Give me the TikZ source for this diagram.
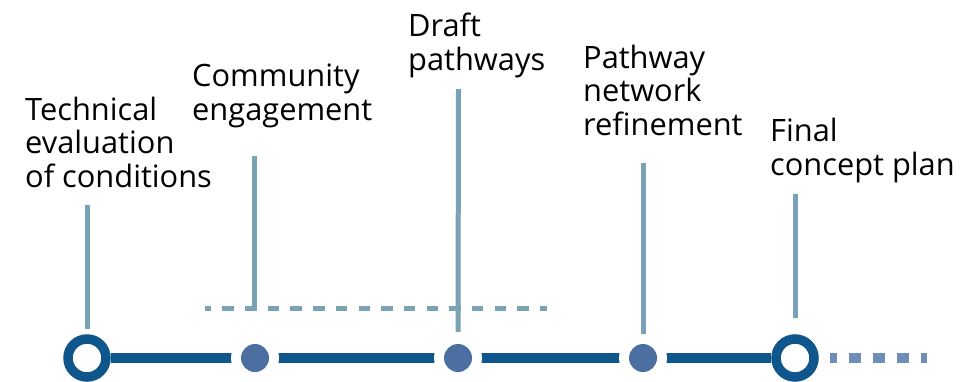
\documentclass[tikz,border=0pt]{standalone}
\usepackage{fontspec}
\setmainfont{Open Sans}
\definecolor{mainblue}{HTML}{0E568C}
\definecolor{dotblue}{HTML}{4A6FA0}
\definecolor{vcol}{HTML}{7AA2B5}
\definecolor{tailblue}{HTML}{6F8DB8}
\begin{document}
\begin{tikzpicture}[x=1pt,y=-1pt,
  lbl/.style={anchor=base west, inner sep=0pt, align=left, font=\fontsize{30.8}{33.5}\selectfont},
  vline/.style={draw=vcol, line width=5pt},
  mainline/.style={draw=mainblue, line width=10.5pt},
  ring/.style={circle, draw=mainblue, line width=9.5pt, fill=white, minimum size=38pt, inner sep=0pt},
  dot/.style={circle, fill=dotblue, minimum size=28pt, inner sep=0pt},
  gapc/.style={circle, fill=white, minimum size=48pt, inner sep=0pt},
  dline/.style={draw=vcol, line width=5pt, dash pattern=on 11.35pt off 11.35pt, dash phase=5.35pt},
  tailline/.style={draw=tailblue, line width=10pt, dash pattern=on 11.7pt off 12.2pt, dash phase=4.7pt},
]
\useasboundingbox (0,0) rectangle (979,381);

% milestones on the timeline
\node[ring] (m1) at (87,358) {};
\node[ring] (m5) at (795,358) {};
\draw[mainline] (m1) -- (m5);
\node[gapc] (g2) at (255,358) {};
\node[gapc] (g3) at (458,358) {};
\node[gapc] (g4) at (643,358) {};
\node[dot] (m2) at (255,358) {};
\node[dot] (m3) at (458,358) {};
\node[dot] (m4) at (643,358) {};

% dotted continuation
\coordinate (tailend) at (927,358);
\draw[tailline] ([xshift=11.25pt]m5.east) -- (tailend);

% dashed bracket line
\coordinate (dl) at (205,308.5);
\coordinate (dr) at (547,308.5);
\draw[dline] (dl) -- (dr);

% labels (anchored at the baseline of their last line)
\node[lbl] (l1) at (25,187) {Technical\\evaluation\\of conditions};
\node[lbl] (l2) at (192,120) {Community\\engagement};
\node[lbl] (l3) at (408,70) {Draft\\pathways};
\node[lbl] (l4) at (583,135) {Pathway\\network\\refinement};
\node[lbl] (l5) at (770,175) {Final\\concept plan};

% vertical connectors
\coordinate (v1) at (87,205);
\coordinate (v2) at (254.5,156);
\coordinate (v2b) at (254.5,311);
\coordinate (v3) at (458.5,89);
\coordinate (v4) at (643,163);
\coordinate (v5) at (795,194);
\draw[vline] (v1) -- ([yshift=5pt]m1.north);
\draw[vline] (v2) -- (v2b);
\draw[vline] (v3) -- ([yshift=2pt]g3.north);
\draw[vline] (v4) -- (g4.north);
\draw[vline] (v5) -- ([yshift=16pt]m5.north);
\end{tikzpicture}
\end{document}
